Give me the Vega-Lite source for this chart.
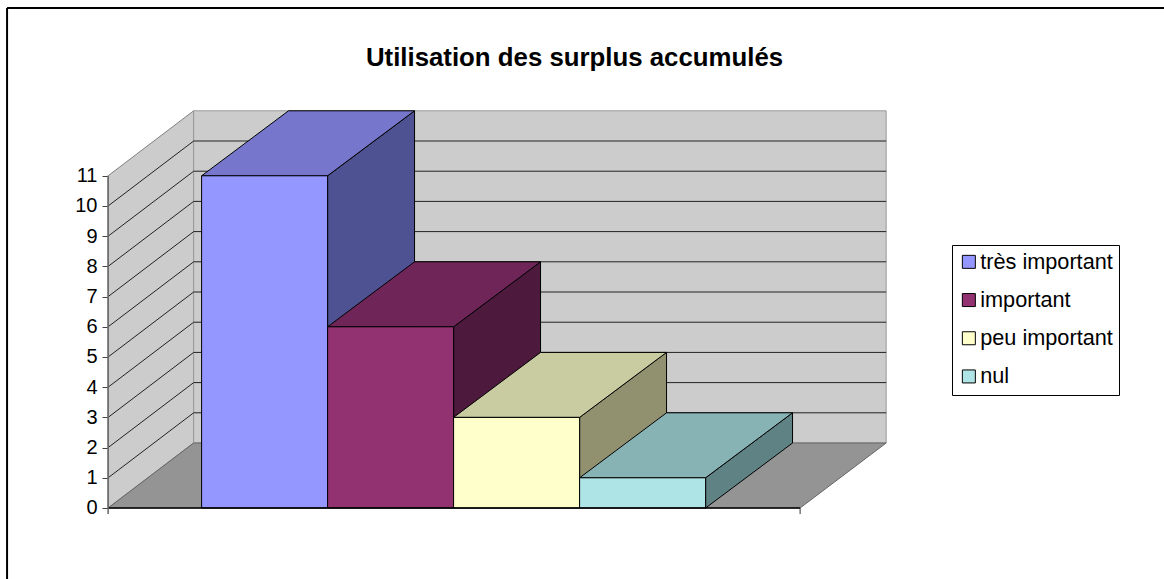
{
"$schema":"https://vega.github.io/schema/vega-lite/v6.json",
"width":1164,"height":579,"padding":0,"autosize":{"type":"none"},"background":"#ffffff",
"title":{"text":"Utilisation des surplus accumulés","font":"Liberation Sans","fontSize":25.8,"fontWeight":"bold","color":"#000000","anchor":"middle","offset":0,"dx":-7.5,"dy":71.5},
"config":{"view":{"stroke":null},"axisX":{"disable":true},"font":"Liberation Sans"},
"datasets":{
"bars":[{"categorie":"très important","position":0,"valeur":11},{"categorie":"important","position":1,"valeur":6},{"categorie":"peu important","position":2,"valeur":3},{"categorie":"nul","position":3,"valeur":1}],
"ends":[{"t":0},{"t":1}],
"ticks":[{"tick":1},{"tick":2},{"tick":3},{"tick":4},{"tick":5},{"tick":6},{"tick":7},{"tick":8},{"tick":9},{"tick":10}],
"one":[{"n":1}]
},
"data":{"name":"bars"},
"resolve":{"scale":{"color":"independent"}},
"layer":[
{"data":{"name":"ends"},"transform":[{"calculate":"-0.742+0.679*datum.t","as":"px"},{"calculate":"2.152*datum.t","as":"lo"},{"calculate":"11+2.152*datum.t","as":"hi"}],
 "mark":{"type":"area","fill":"#CCCCCC","stroke":"#808080","strokeWidth":1},
 "encoding":{"x":{"field":"px","type":"quantitative","scale":{"domain":[-1.6,7.6381],"nice":false,"zero":false}},
 "y":{"field":"lo","type":"quantitative","title":null,"scale":{"domain":[-2.351,16.821],"nice":false,"zero":false},"axis":{"orient":"left","offset":-108,"values":[0,1,2,3,4,5,6,7,8,9,10,11],"format":"d","title":null,"domain":false,"grid":false,"tickSize":6,"tickColor":"#444444","labelFontSize":20,"labelColor":"#000000","labelFont":"Liberation Sans","labelPadding":5}},
 "y2":{"field":"hi"}}},
{"data":{"name":"ends"},"transform":[{"calculate":"-0.063+5.496*datum.t","as":"px"}],
 "mark":{"type":"area","fill":"#CCCCCC","stroke":"#999999","strokeWidth":1},
 "encoding":{"x":{"field":"px","type":"quantitative"},"y":{"datum":2.152,"type":"quantitative","title":null},"y2":{"datum":13.152}}},
{"data":{"name":"ends"},"transform":[{"calculate":"2.152*datum.t","as":"py"},{"calculate":"-0.742+0.679*datum.t","as":"a"},{"calculate":"4.75+0.683*datum.t","as":"b"}],
 "mark":{"type":"area","orient":"horizontal","fill":"#949494","stroke":"#666666","strokeWidth":1},
 "encoding":{"y":{"field":"py","type":"quantitative","title":null},"x":{"field":"a","type":"quantitative"},"x2":{"field":"b"}}},
{"data":{"name":"ticks"},"transform":[{"calculate":"datum.tick+2.152","as":"back"}],
 "mark":{"type":"rule","stroke":"#222222","strokeWidth":1},
 "encoding":{"x":{"datum":-0.742,"type":"quantitative"},"x2":{"datum":-0.063},"y":{"field":"tick","type":"quantitative","title":null},"y2":{"field":"back"}}},
{"data":{"name":"ticks"},"transform":[{"calculate":"datum.tick+2.152","as":"back"}],
 "mark":{"type":"rule","stroke":"#222222","strokeWidth":1},
 "encoding":{"x":{"datum":-0.063,"type":"quantitative"},"x2":{"datum":5.433},"y":{"field":"back","type":"quantitative","title":null}}},
{"transform":[{"calculate":"[0,1]","as":"t"},{"flatten":["t"]},{"calculate":"datum.position+1+0.69*datum.t","as":"px"},{"calculate":"2.152*datum.t","as":"lo"},{"calculate":"datum.valeur+2.152*datum.t","as":"hi"}],
 "mark":{"type":"area","stroke":"#000000","strokeWidth":1},
 "encoding":{"x":{"field":"px","type":"quantitative"},"y":{"field":"lo","type":"quantitative","title":null},"y2":{"field":"hi"},
 "color":{"field":"categorie","type":"nominal","legend":null,"scale":{"domain":["très important","important","peu important","nul"],"range":["#4E5292","#4D1A3E","#919170","#5F8284"]}}}},
{"transform":[{"calculate":"[0,1]","as":"t"},{"flatten":["t"]},{"calculate":"datum.valeur+2.152*datum.t","as":"py"},{"calculate":"datum.position+0.69*datum.t","as":"a"},{"calculate":"datum.position+1+0.69*datum.t","as":"b"}],
 "mark":{"type":"area","orient":"horizontal","stroke":"#000000","strokeWidth":1},
 "encoding":{"y":{"field":"py","type":"quantitative","title":null},"x":{"field":"a","type":"quantitative"},"x2":{"field":"b"},
 "color":{"field":"categorie","type":"nominal","legend":null,"scale":{"domain":["très important","important","peu important","nul"],"range":["#7676CC","#702558","#C9CBA0","#88B3B5"]}}}},
{"transform":[{"calculate":"datum.position+1","as":"fin"}],
 "mark":{"type":"rect","stroke":"#000000","strokeWidth":1},
 "encoding":{"x":{"field":"position","type":"quantitative"},"x2":{"field":"fin"},"y":{"field":"valeur","type":"quantitative","title":null},"y2":{"datum":0},
 "color":{"field":"categorie","type":"nominal","sort":null,"scale":{"domain":["très important","important","peu important","nul"],"range":["#9497FF","#923270","#FFFFCC","#AEE4E6"]},
 "legend":{"orient":"none","legendX":952,"legendY":245,"title":null,"symbolType":"square","symbolSize":169,"symbolOffset":0,"symbolStrokeColor":"#000000","symbolStrokeWidth":1,"labelFontSize":21.7,"labelFont":"Liberation Sans","labelColor":"#000000","labelOffset":0.5,"rowPadding":15.2,"padding":6,"strokeColor":"#000000","fillColor":"#ffffff"}}}},
{"data":{"name":"one"},"mark":{"type":"rule","stroke":"#000000","strokeWidth":1.5},
 "encoding":{"x":{"datum":-0.742,"type":"quantitative"},"x2":{"datum":4.75},"y":{"datum":0,"type":"quantitative","title":null}}},
{"data":{"name":"one"},"mark":{"type":"rule","stroke":"#666666","strokeWidth":1.5},
 "encoding":{"x":{"datum":-0.742,"type":"quantitative"},"y":{"datum":11,"type":"quantitative","title":null},"y2":{"datum":-0.2}}},
{"data":{"name":"one"},"mark":{"type":"rule","stroke":"#333333","strokeWidth":1},
 "encoding":{"x":{"datum":4.75,"type":"quantitative"},"y":{"datum":0,"type":"quantitative","title":null},"y2":{"datum":-0.2}}},
{"data":{"name":"one"},"mark":{"type":"rule","stroke":"#000000","strokeWidth":2},
 "encoding":{"x":{"datum":-1.544,"type":"quantitative"},"y":{"datum":16.556,"type":"quantitative","title":null},"y2":{"datum":-2.351}}},
{"data":{"name":"one"},"mark":{"type":"rule","stroke":"#000000","strokeWidth":2},
 "encoding":{"x":{"datum":-1.544,"type":"quantitative"},"x2":{"datum":7.6381},"y":{"datum":16.556,"type":"quantitative","title":null}}}
]
}
